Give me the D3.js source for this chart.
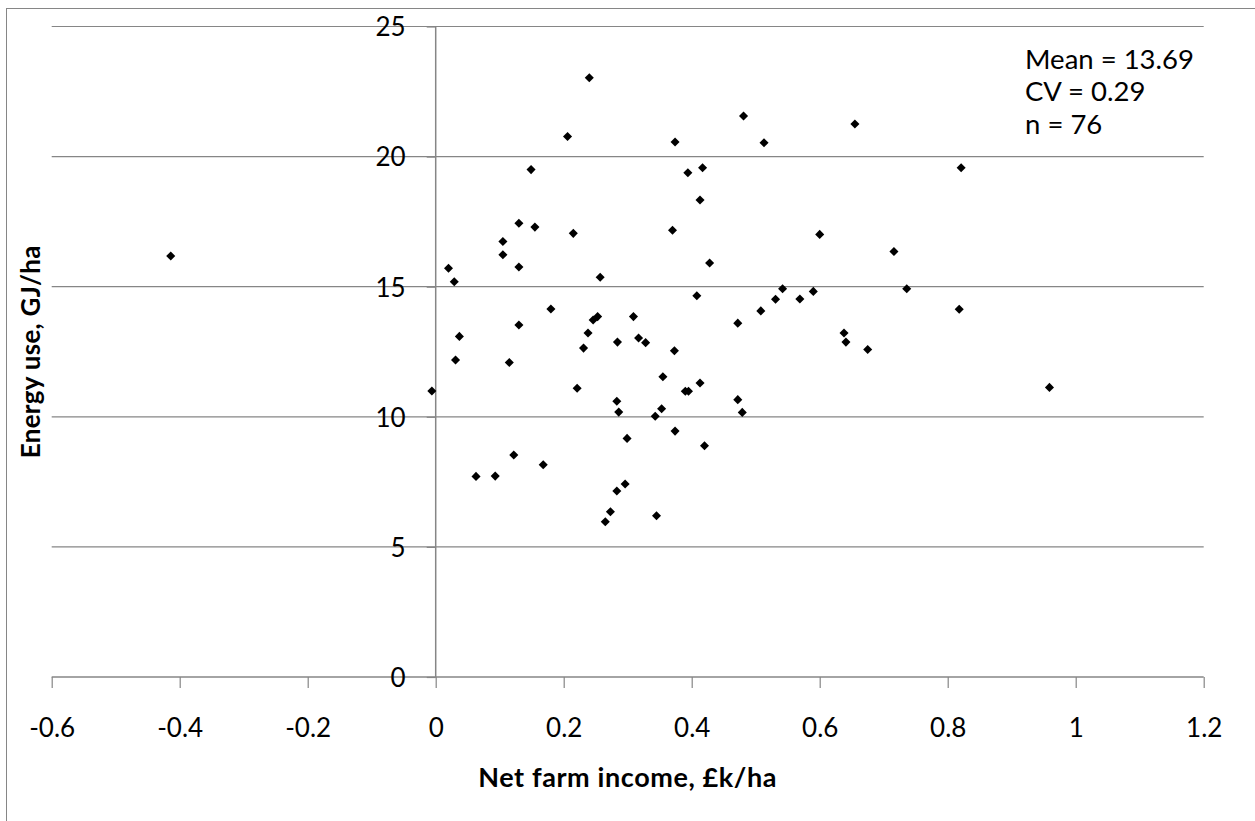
<!DOCTYPE html>
<html>
<head>
<meta charset="utf-8">
<script src="https://cdn.jsdelivr.net/npm/d3@7"></script>
<style>
  html, body { margin: 0; padding: 0; background: #fff; }
  svg { display: block; }
  text { font-family: Lato, "Open Sans", sans-serif; fill: #000; }
</style>
</head>
<body>
<svg id="chart" width="1255" height="821"></svg>
<script>
// ---- Data ----
const netFarmIncome = [
  -0.414, -0.006, 0.020, 0.029, 0.130, 0.257, 0.428, 0.408, 0.542, 0.590,
  0.531, 0.569, 0.508, 0.472, 0.180, 0.130, 0.037, 0.031, 0.115, 0.253,
  0.246, 0.238, 0.231, 0.309, 0.284, 0.317, 0.328, 0.373, 0.355, 0.221,
  0.390, 0.395, 0.413, 0.472, 0.479, 0.283, 0.286, 0.353, 0.343, 0.374,
  0.299, 0.420, 0.122, 0.168, 0.063, 0.093, 0.296, 0.283, 0.273, 0.265,
  0.345, 0.240, 0.206, 0.374, 0.481, 0.513, 0.149, 0.394, 0.417, 0.413,
  0.130, 0.155, 0.215, 0.370, 0.600, 0.105, 0.105, 0.655, 0.716, 0.821,
  0.736, 0.818, 0.638, 0.641, 0.675, 0.959
];
const energyUse = [
  16.18, 10.99, 15.71, 15.19, 15.76, 15.36, 15.91, 14.65, 14.92, 14.82,
  14.52, 14.53, 14.07, 13.60, 14.14, 13.53, 13.09, 12.18, 12.09, 13.85,
  13.72, 13.22, 12.64, 13.85, 12.87, 13.03, 12.85, 12.54, 11.54, 11.10,
  10.98, 10.98, 11.30, 10.66, 10.17, 10.60, 10.18, 10.31, 10.02, 9.45,
  9.17, 8.89, 8.53, 8.16, 7.71, 7.72, 7.42, 7.15, 6.35, 5.97,
  6.20, 23.03, 20.77, 20.56, 21.56, 20.53, 19.50, 19.38, 19.57, 18.33,
  17.44, 17.29, 17.05, 17.17, 17.01, 16.74, 16.23, 21.25, 16.35, 19.57,
  14.92, 14.13, 13.22, 12.87, 12.59, 11.13
];
const xTicks = [-0.6, -0.4, -0.2, 0, 0.2, 0.4, 0.6, 0.8, 1, 1.2];
const yTicks = [0, 5, 10, 15, 20, 25];
const xTitle = "Net farm income, £k/ha";
const yTitle = "Energy use, GJ/ha";
const statsLines = ["Mean = 13.69", "CV = 0.29", "n = 76"];

// ---- Layout ----
const svg = d3.select("#chart");
const plot = { left: 51.7, right: 1203.7, top: 26.5, bottom: 677 };
const axisColor = "#868686";

const x = d3.scaleLinear().domain([-0.6, 1.2]).range([plot.left, plot.right]);
const y = d3.scaleLinear().domain([0, 25]).range([plot.bottom, plot.top]);

// Outer chart border
svg.append("rect")
  .attr("x", 6.5).attr("y", 8.5)
  .attr("width", 1270).attr("height", 830)
  .attr("fill", "none").attr("stroke", axisColor).attr("stroke-width", 1);

// Horizontal gridlines
svg.append("g")
  .selectAll("line")
  .data(yTicks.filter(d => d !== 0))
  .join("line")
  .attr("x1", plot.left).attr("x2", plot.right)
  .attr("y1", d => y(d)).attr("y2", d => y(d))
  .attr("stroke", axisColor).attr("stroke-width", 1.2);

const fmt = d => String(+(+d).toFixed(1));

// X axis (positioned at y = 0)
const xAxis = svg.append("g")
  .attr("transform", `translate(0,${y(0)})`)
  .call(d3.axisBottom(x).tickValues(xTicks).tickSize(11).tickPadding(31).tickFormat(fmt));
xAxis.select(".domain").attr("stroke", axisColor).attr("stroke-width", 1.5)
  .attr("d", `M${plot.left},0H${plot.right}`);
xAxis.selectAll(".tick line").attr("stroke", axisColor).attr("stroke-width", 1.2);
xAxis.selectAll(".tick text")
  .style("font-family", "Lato, sans-serif").style("font-size", "26px").attr("fill", "#000");

// Y axis (positioned at x = 0)
const yAxis = svg.append("g")
  .attr("transform", `translate(${x(0)},0)`)
  .call(d3.axisLeft(y).tickValues(yTicks).tickSize(9).tickPadding(21).tickFormat(fmt));
yAxis.select(".domain").attr("stroke", axisColor).attr("stroke-width", 1.5)
  .attr("d", `M0,${plot.top}V${plot.bottom}`);
yAxis.selectAll(".tick line").attr("stroke", axisColor).attr("stroke-width", 1.2);
yAxis.selectAll(".tick text")
  .style("font-family", "Lato, sans-serif").style("font-size", "26px").attr("fill", "#000")
  .attr("dy", "0.36em");

// Axis titles
svg.append("text")
  .attr("x", (plot.left + plot.right) / 2).attr("y", 787)
  .attr("text-anchor", "middle")
  .style("font-size", "27px").style("font-weight", "bold")
  .style("letter-spacing", "0.6px")
  .text(xTitle);

svg.append("text")
  .attr("transform", `translate(40,${(plot.top + plot.bottom) / 2}) rotate(-90)`)
  .attr("text-anchor", "middle")
  .style("font-size", "26px").style("font-weight", "bold")
  .style("letter-spacing", "0.3px")
  .text(yTitle);

// Points: black diamonds
const points = netFarmIncome.map((v, i) => ({ x: v, y: energyUse[i] }));
const diamond = d3.symbol().type(d3.symbolSquare).size(41);
svg.append("g")
  .selectAll("path")
  .data(points)
  .join("path")
  .attr("d", diamond)
  .attr("transform", d => `translate(${x(d.x)},${y(d.y)}) rotate(45)`)
  .attr("fill", "#000");

// Statistics annotation
const baselines = [68.5, 101, 134];
svg.append("g")
  .selectAll("text")
  .data(statsLines)
  .join("text")
  .attr("x", 1025)
  .attr("y", (d, i) => baselines[i])
  .style("font-size", "27.5px")
  .text(d => d);
</script>
</body>
</html>
